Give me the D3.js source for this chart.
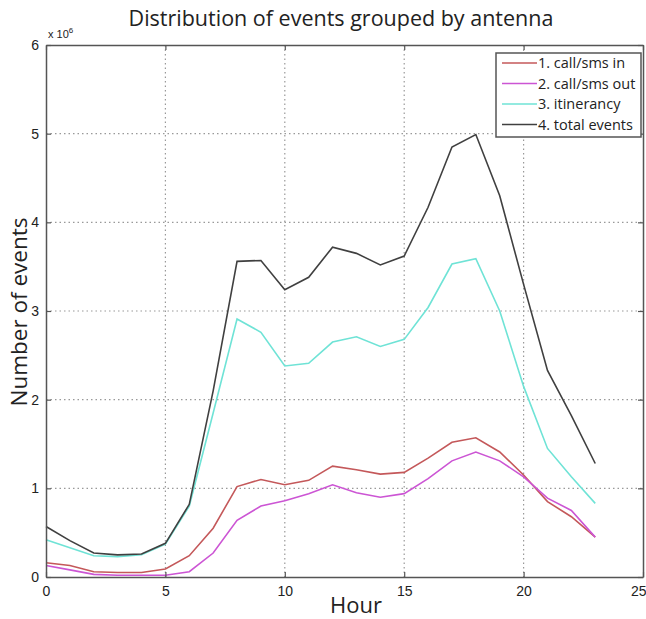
<!DOCTYPE html>
<html>
<head>
<meta charset="utf-8">
<script src="https://cdnjs.cloudflare.com/ajax/libs/d3/7.8.5/d3.min.js"></script>
<style>
  body { margin: 0; background: #fff; }
  svg text { fill: #222; }
</style>
</head>
<body>
<script>
// hours 0..23
var hours = d3.range(0, 24);

// values in millions of events
var callIn =  [0.16,0.13,0.06,0.05,0.05,0.09,0.24,0.55,1.02,1.10,1.04,1.09,1.25,1.21,1.16,1.18,1.34,1.52,1.57,1.41,1.15,0.85,0.68,0.45];
var callOut = [0.13,0.08,0.03,0.02,0.02,0.02,0.06,0.27,0.64,0.80,0.86,0.94,1.04,0.95,0.90,0.94,1.11,1.31,1.41,1.31,1.13,0.89,0.75,0.45];
var itin =    [0.42,0.33,0.24,0.23,0.25,0.37,0.80,1.85,2.91,2.76,2.38,2.41,2.65,2.71,2.60,2.68,3.04,3.53,3.59,3.00,2.15,1.45,1.13,0.83];
var total =   [0.57,0.41,0.27,0.25,0.26,0.38,0.82,2.10,3.56,3.57,3.24,3.38,3.72,3.65,3.52,3.62,4.17,4.85,4.99,4.30,3.30,2.33,1.82,1.28];

var seriesNames = ["1. call/sms in", "2. call/sms out", "3. itinerancy", "4. total events"];
var seriesColors = ["#c4585a", "#cc55d4", "#6fe3d6", "#404040"];
var seriesData = [callIn, callOut, itin, total];

var xTicks = [0, 5, 10, 15, 20, 25];
var yTicks = [0, 1, 2, 3, 4, 5, 6];

var W = 646, H = 619;
var margin = {top: 45, right: 3, bottom: 42, left: 46};
var width = W - margin.left - margin.right;
var height = H - margin.top - margin.bottom;

var svg = d3.select("body").append("svg")
    .attr("width", W)
    .attr("height", H);

var g = svg.append("g")
    .attr("transform", "translate(" + margin.left + "," + margin.top + ")");

var x = d3.scaleLinear().domain([0, 25]).range([0, width]);
var y = d3.scaleLinear().domain([0, 6]).range([height, 0]);

// grid
g.append("g").selectAll("line")
    .data(xTicks.slice(1, -1)).enter().append("line")
    .attr("x1", function(d){ return x(d); })
    .attr("x2", function(d){ return x(d); })
    .attr("y1", 0).attr("y2", height)
    .style("stroke", "#999").style("stroke-width", 1.2)
    .style("stroke-dasharray", "1.5,3");
g.append("g").selectAll("line")
    .data(yTicks.slice(1, -1)).enter().append("line")
    .attr("y1", function(d){ return y(d); })
    .attr("y2", function(d){ return y(d); })
    .attr("x1", 0).attr("x2", width)
    .style("stroke", "#999").style("stroke-width", 1.2)
    .style("stroke-dasharray", "1.5,3");

// lines
var line = d3.line()
    .x(function(d, i){ return x(hours[i]); })
    .y(function(d){ return y(d); });

seriesData.forEach(function(s, i){
    g.append("path")
        .datum(s)
        .attr("d", line)
        .style("fill", "none")
        .style("stroke", seriesColors[i])
        .style("stroke-width", 1.6);
});

// axes (matlab style: ticks inward, box)
var bottomAxis = d3.axisBottom(x).tickValues(xTicks).tickSizeInner(-5).tickSizeOuter(0).tickPadding(9);
var leftAxis = d3.axisLeft(y).tickValues(yTicks).tickSizeInner(-5).tickSizeOuter(0).tickPadding(7)
    .tickFormat(function(d){ return d; });
var topAxis = d3.axisTop(x).tickValues(xTicks).tickSizeInner(-5).tickSizeOuter(0).tickFormat("");
var rightAxis = d3.axisRight(y).tickValues(yTicks).tickSizeInner(-5).tickSizeOuter(0).tickFormat("");

function styleAxis(a){
    a.selectAll("path").style("stroke", "#555").style("stroke-width", 1.5);
    a.selectAll("line").style("stroke", "#555").style("stroke-width", 1.2);
    a.selectAll("text").style("font-family", "Liberation Sans, Arial, sans-serif")
        .style("font-size", "14px").style("fill", "#222");
}

var gb = g.append("g").attr("transform", "translate(0," + height + ")").call(bottomAxis);
styleAxis(gb);
// last label sits at the right edge; keep it inside the page
gb.selectAll("text").filter(function(d){ return d === 25; }).attr("text-anchor", "end").attr("dx", 3);
var gl = g.append("g").call(leftAxis);
styleAxis(gl);
var gt = g.append("g").call(topAxis);
styleAxis(gt);
var gr = g.append("g").attr("transform", "translate(" + width + ",0)").call(rightAxis);
styleAxis(gr);

// exponent label
var expo = svg.append("text")
    .attr("x", margin.left + 2).attr("y", margin.top - 7)
    .style("font-family", "Liberation Sans, Arial, sans-serif")
    .style("font-size", "11px");
expo.append("tspan").text("x 10");
expo.append("tspan").attr("dy", -5).style("font-size", "8px").text("6");

// title
svg.append("text")
    .attr("x", 341).attr("y", 26)
    .attr("text-anchor", "middle")
    .style("font-family", "Open Sans, sans-serif")
    .style("font-size", "21.5px")
    .text("Distribution of events grouped by antenna");

// axis labels
svg.append("text")
    .attr("x", 356).attr("y", 613)
    .attr("text-anchor", "middle")
    .style("font-family", "Open Sans, sans-serif")
    .style("font-size", "22px")
    .text("Hour");

svg.append("text")
    .attr("transform", "translate(27," + 312 + ") rotate(-90)")
    .attr("text-anchor", "middle")
    .style("font-family", "Open Sans, sans-serif")
    .style("font-size", "22.5px")
    .text("Number of events");

// legend
var lg = svg.append("g").attr("transform", "translate(496,53)");
lg.append("rect")
    .attr("width", 145).attr("height", 84)
    .style("fill", "#fff").style("stroke", "#555").style("stroke-width", 1.5);
seriesNames.forEach(function(n, i){
    var yy = 10 + i * 20.5;
    lg.append("line")
        .attr("x1", 6).attr("x2", 41).attr("y1", yy).attr("y2", yy)
        .style("stroke", seriesColors[i]).style("stroke-width", 1.6);
    lg.append("text")
        .attr("x", 42).attr("y", yy + 5)
        .style("font-family", "Open Sans, sans-serif")
        .style("font-size", "14.5px")
        .text(n);
});
</script>
</body>
</html>
